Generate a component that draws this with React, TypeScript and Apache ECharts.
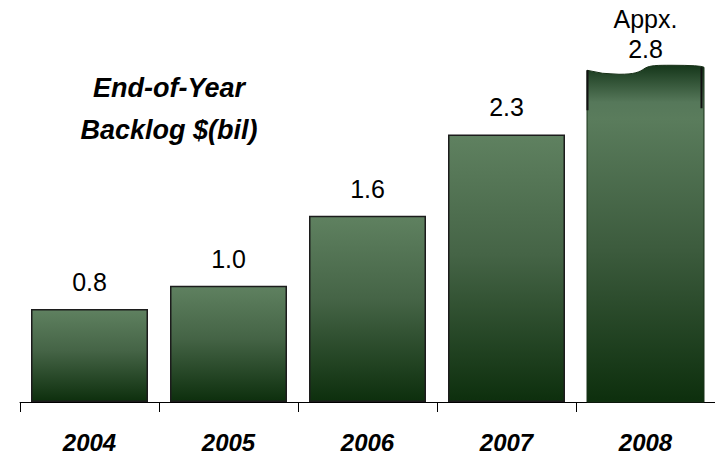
import React, { useEffect, useRef } from "react";
import * as echarts from "echarts";

const years = ["2004", "2005", "2006", "2007", "2008"];
const backlog = [0.8, 1.0, 1.6, 2.3, 2.8];
const valueLabels = ["0.8", "1.0", "1.6", "2.3", "Appx.\n2.8"];
const titleLines = ["End-of-Year", "Backlog $(bil)"];
const FONT = "'Liberation Sans', Arial, Helvetica, sans-serif";

export default function App() {
  const ref = useRef<HTMLDivElement>(null);

  useEffect(() => {
    document.body.style.margin = "0";
    const chart = echarts.init(ref.current!, null, { renderer: "svg" });
    const last = years.length - 1;

    const barGradient = {
      type: "linear", x: 0, y: 0, x2: 0, y2: 1,
      colorStops: [
        { offset: 0, color: "#5f8160" },
        { offset: 0.45, color: "#456446" },
        { offset: 1, color: "#0d2f0d" },
      ],
    };

    const waveGradient = {
      type: "linear", x: 0, y: 0, x2: 0, y2: 1,
      colorStops: [
        { offset: 0, color: "#15361a" },
        { offset: 0.11, color: "#56785a" },
        { offset: 0.16, color: "#5a7c5c" },
        { offset: 0.55, color: "#3c5b3d" },
        { offset: 1, color: "#0d2f0d" },
      ],
    };

    const barData = backlog.map((v, i) =>
      i === last
        ? { value: v, itemStyle: { color: "rgba(0,0,0,0)", borderWidth: 0 } }
        : { value: v }
    );

    chart.setOption({
      animation: false,
      title: {
        text: titleLines.join("\n"),
        left: 164,
        top: 62,
        textAlign: "center",
        textStyle: {
          fontFamily: FONT,
          fontSize: 27,
          fontWeight: "bold",
          fontStyle: "italic",
          color: "#000",
          lineHeight: 42,
        },
      },
      grid: { left: 20, right: 0, top: 53, bottom: 59, containLabel: false },
      xAxis: {
        type: "category",
        data: years,
        axisLine: { lineStyle: { color: "#000", width: 1 } },
        axisTick: { show: true, length: 10, lineStyle: { color: "#000", width: 1 } },
        axisLabel: {
          margin: 28,
          fontFamily: FONT,
          fontSize: 24,
          fontWeight: "bold",
          fontStyle: "italic",
          color: "#000",
        },
      },
      yAxis: {
        type: "value",
        min: 0,
        max: 3,
        show: false,
        splitLine: { show: false },
      },
      series: [
        {
          type: "bar",
          data: barData,
          barWidth: 117,
          itemStyle: {
            color: barGradient,
            borderColor: "#1c1c1c",
            borderWidth: 1.5,
          },
          label: {
            show: true,
            position: "top",
            distance: 12,
            fontFamily: FONT,
            fontSize: 25,
            lineHeight: 30,
            color: "#000",
            formatter: (p: any) => valueLabels[p.dataIndex],
          },
        },
        {
          type: "custom",
          data: [[last, backlog[last]]],
          z: 3,
          renderItem: (params: any, api: any) => {
            const idx = api.value(0);
            const v = api.value(1);
            const top = api.coord([idx, v]);
            const base = api.coord([idx, 0]);
            const bw = 117;
            const L = top[0] - bw / 2;
            const R = top[0] + bw / 2;
            const T = top[1];
            const B = base[1];
            const d =
              `M${L},${B} L${L},${T - 6} ` +
              `Q${L + 15},${T - 2} ${L + 32},${T - 2} ` +
              `C${L + 48},${T - 2} ${L + 52},${T - 4} ${L + 58},${T - 8} ` +
              `C${L + 63},${T - 11} ${L + 70},${T - 11} ${L + 85},${T - 11} ` +
              `Q${R - 3},${T - 11} ${R},${T - 9} L${R},${B} Z`;
            return {
              type: "group",
              children: [
                {
                  type: "path",
                  shape: { pathData: d },
                  style: { fill: waveGradient, stroke: "#163016", lineWidth: 1 },
                },
                {
                  type: "line",
                  shape: { x1: L + 0.5, y1: T - 6, x2: L + 0.5, y2: T + 34 },
                  style: { stroke: "#111", lineWidth: 2 },
                },
                {
                  type: "line",
                  shape: { x1: R - 2.5, y1: T - 9, x2: R - 2.5, y2: T + 32 },
                  style: { stroke: "#111", lineWidth: 2 },
                },
              ],
            };
          },
        },
      ],
    });

    return () => chart.dispose();
  }, []);

  return <div ref={ref} style={{ width: 715, height: 461 }} />;
}
